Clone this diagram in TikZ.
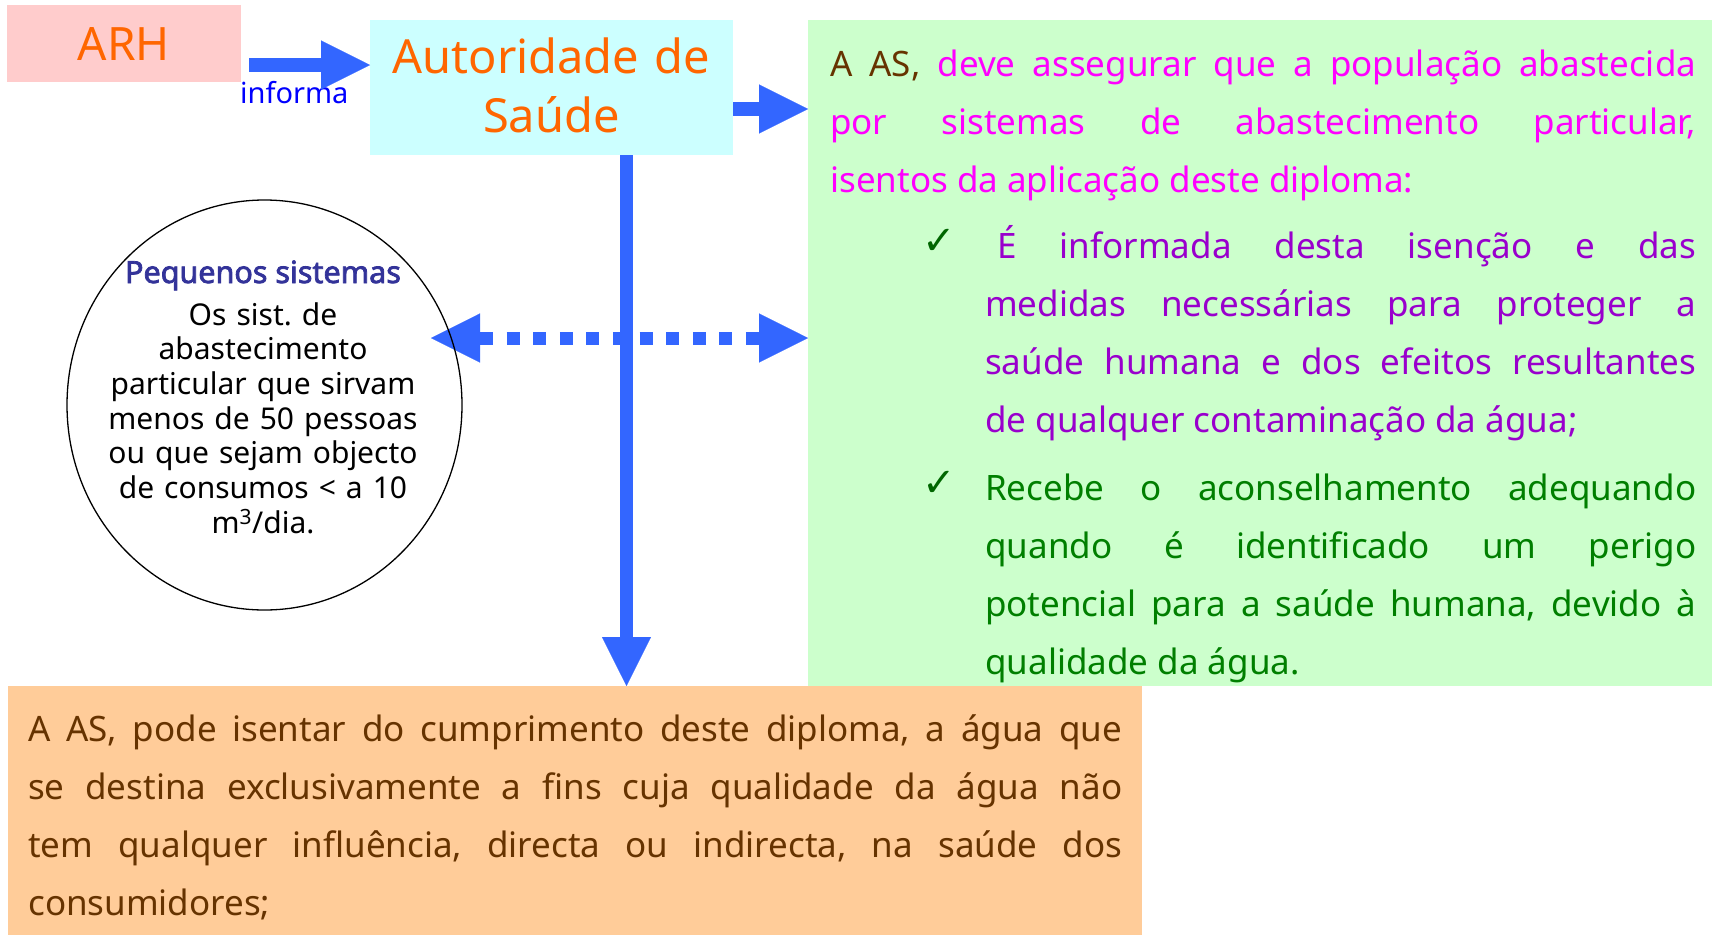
\documentclass[tikz,border=0pt]{standalone}
\usepackage{fontspec}
\setmainfont{Noto Sans}
\newfontfamily\symfont{DejaVu Sans}
\newfontfamily\boldnoto[FakeBold=2.5]{Noto Sans}
\usetikzlibrary{arrows.meta,shapes.geometric}
\frenchspacing
\definecolor{arhpink}{HTML}{FFCCCC}
\definecolor{ascyan}{HTML}{CCFFFF}
\definecolor{greenbox}{HTML}{CCFFCC}
\definecolor{orangebox}{HTML}{FFCC99}
\definecolor{titleorange}{HTML}{FF6600}
\definecolor{arrowblue}{HTML}{3366FF}
\definecolor{infoblue}{HTML}{0000FF}
\definecolor{asbrown}{HTML}{663300}
\definecolor{magentatxt}{HTML}{FF00FF}
\definecolor{purpletxt}{HTML}{9900CC}
\definecolor{greentxt}{HTML}{007F00}
\definecolor{checkgreen}{HTML}{006600}
\definecolor{navytxt}{HTML}{333399}
\begin{document}
\begin{tikzpicture}[x=1pt,y=-1pt,
  box/.style={draw=none,inner sep=0pt,anchor=north west},
  bigtext/.style={inner sep=0pt,text=titleorange,font=\fontsize{46}{59}\selectfont},
  para/.style={inner sep=0pt,anchor=base west,align=justify,font=\fontsize{35}{58}\selectfont},
  checkmark/.style={inner sep=0pt,text=checkgreen,font=\symfont\fontsize{40}{40}\selectfont},
  fatarrow/.style={draw=arrowblue,line width=13.5pt,-{Triangle[length=49pt,width=49pt,line width=0.1pt]}},
  dotarrow/.style={draw=arrowblue,line width=13pt,dash pattern=on 13pt off 13.6pt,
    {Triangle[length=49pt,width=49pt,line width=0.1pt]}-{Triangle[length=49pt,width=49pt,line width=0.1pt]}}
]
\useasboundingbox (0,0) rectangle (1712,935);

% boxes
\node[box,fill=arhpink,minimum width=234pt,minimum height=77pt] (ARH) at (7,5) {};
\node[box,fill=ascyan,minimum width=363pt,minimum height=135pt] (AS) at (370,20) {};
\node[box,fill=greenbox,minimum width=904pt,minimum height=666pt] (green) at (808,20) {};
\node[box,fill=orangebox,minimum width=1134pt,minimum height=249pt] (orange) at (8,686) {};

% titles
\node[bigtext,anchor=base] (ARHtext) at (124,60) {ARH};
\node[bigtext,anchor=base,text width=360pt,align=center,font=\fontsize{47}{59}\selectfont] (AStext) at (551.5,73) {Autoridade de\\Saúde};
\node[inner sep=0pt,anchor=base west,text=infoblue,font=\fontsize{29}{29}\selectfont] (informa) at (240,103) {informa};

% arrows
\coordinate (a1s) at (249,65);
\draw[fatarrow] (a1s) -- (AS.west |- a1s);
\coordinate (a2s) at (733,109);
\draw[fatarrow] (a2s) -- (green.west |- a2s);
\coordinate (vs) at (626.5,155);
\draw[fatarrow] (vs) -- (orange.north -| vs);
\coordinate (dl) at (431,338);
\draw[dotarrow] (dl) -- (green.west |- dl);

% circle
\node[draw=black,line width=1.3pt,ellipse,minimum width=395pt,minimum height=410pt,inner sep=0pt] (ps) at (264.5,405) {};
\node[inner sep=0pt,anchor=base,text=navytxt,font=\boldnoto\fontsize{30.5}{30.5}\selectfont] (pstitle) at (263,283) {Pequenos sistemas};
\node[inner sep=0pt,anchor=base,text width=360pt,align=center,font=\fontsize{30}{34.7}\selectfont] (psbody) at (263,325)
  {Os sist. de\\abastecimento\\particular que sirvam\\menos de 50 pessoas\\ou que sejam objecto\\de consumos < a 10\\m\textsuperscript{3}/dia.};

% green box text
\node[para,text width=866pt] (head) at (830,76)
  {{\color{asbrown}A AS,} \color{magentatxt}deve assegurar que a população abastecida\linebreak por sistemas de abastecimento particular,\linebreak isentos da aplicação deste diploma:};
\node[checkmark] (c1) at (939,242) {✓};
\node[para,text width=711pt,text=purpletxt] (b1) at (985,258)
  {\hspace*{0.35em}É informada desta isenção e das\linebreak medidas necessárias para proteger a\linebreak saúde humana e dos efeitos resultantes\linebreak de qualquer contaminação da água;};
\node[checkmark] (c2) at (939,484) {✓};
\node[para,text width=711pt,text=greentxt] (b2) at (985,500)
  {Recebe o aconselhamento adequando\linebreak quando é identificado um perigo\linebreak potencial para a saúde humana, devido à\linebreak qualidade da água.};

% orange box text
\node[para,text width=1094pt,text=asbrown] (otext) at (28,741)
  {A AS, pode isentar do cumprimento deste diploma, a água que\linebreak se destina exclusivamente a fins cuja qualidade da água não\linebreak tem qualquer influência, directa ou indirecta, na saúde dos\linebreak consumidores;};
\end{tikzpicture}
\end{document}
